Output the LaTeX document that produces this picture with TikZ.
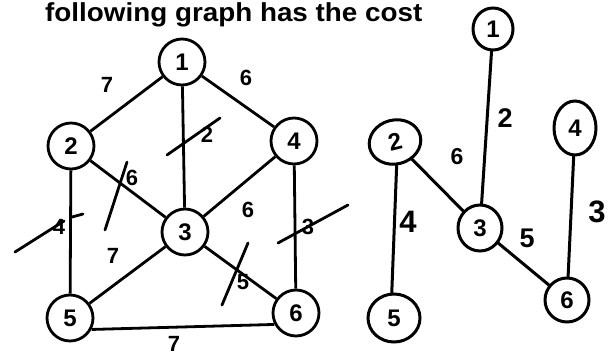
\documentclass[tikz,border=0pt]{standalone}
\usepackage{fontspec}
\setmainfont{Liberation Sans}
\usetikzlibrary{shapes.geometric}
\begin{document}
\begin{tikzpicture}[x=1pt,y=-1pt,
  vtx/.style={circle,draw,line width=2.8pt,minimum size=46pt,inner sep=0pt,
    font=\fontsize{24}{24}\selectfont\bfseries},
  edge/.style={line width=2.8pt},
  wt/.style={font=\fontsize{22}{22}\selectfont\bfseries,inner sep=0pt},
  strike/.style={line width=2.8pt,line cap=round},
  hv/.style={ellipse,draw,line width=3pt,inner sep=0pt,
    font=\fontsize{24}{24}\selectfont\bfseries},
  hedge/.style={line width=3pt,line cap=round},
  hwt/.style={font=\fontsize{27}{27}\selectfont\bfseries,inner sep=0pt}
]
\useasboundingbox (0,0) rectangle (612,361);
\fill[white] (0,0) rectangle (612,361);

% heading line
\node[anchor=base west,inner sep=0pt,font=\fontsize{26}{26}\selectfont\bfseries]
  (title) at (45,21.5) {\scalebox{1.07}[1]{following graph has the cost}};

% ---- weighted graph ----
\node[vtx] (L1) at (182,62)  {1};
\node[vtx] (L2) at (71,146)  {2};
\node[vtx] (L3) at (185,232) {3};
\node[vtx] (L4) at (294,141) {4};
\node[vtx] (L5) at (70,318)  {5};
\node[vtx] (L6) at (296,313) {6};

\draw[edge] (L1) -- (L2);
\draw[edge] (L1) -- (L4);
\draw[edge] (L1) -- (L3);
\draw[edge] (L2) -- (L3);
\draw[edge] (L2) -- (L5);
\draw[edge] (L3) -- (L4);
\draw[edge] (L3) -- (L5);
\draw[edge] (L3) -- (L6);
\draw[edge] (L4) -- (L6);
\draw[edge] (L5.-28) -- (L6.-152);

\node[wt] (w12) at (107,85)  {7};
\node[wt] (w14) at (246,78)  {6};
\node[wt] (w13) at (207,135) {2};
\node[wt] (w23) at (132,178) {6};
\node[wt] (w25) at (59,227)  {4};
\node[wt] (w34) at (248,210) {6};
\node[wt] (w46) at (308,227) {3};
\node[wt] (w35) at (113,256) {7};
\node[wt] (w36) at (243,282) {5};
\node[wt] (w56) at (174,344) {7};

% pen strokes crossing out the rejected edges
\draw[strike] (167,155) -- (220,118);
\draw[strike] (105,230) -- (127,162);
\draw[strike] (15,252) -- (64,221);
\draw[strike] (72,217) -- (83,214);
\draw[strike] (278,243) -- (348,205);
\draw[strike] (222,305) -- (248,243);

% ---- hand-drawn spanning tree ----
\node[hv,minimum width=40pt,minimum height=42pt] (R1) at (493,29)  {1};
\node[hv,minimum width=52pt,minimum height=44pt,rotate=14] (R2) at (395,142) {2};
\node[hv,minimum width=42pt,minimum height=54pt] (R4) at (575,128) {4};
\node[hv,minimum width=44pt,minimum height=46pt] (R3) at (480,228) {3};
\node[hv,minimum width=52pt,minimum height=48pt] (R5) at (394,318) {5};
\node[hv,minimum width=44pt,minimum height=44pt] (R6) at (567,300) {6};

\draw[hedge] (R1) -- (R3);
\draw[hedge] (R2) -- (R3);
\draw[hedge] (R2.-100) -- (R5.95);
\draw[hedge] (R4) -- (R6);
\draw[hedge] (R3) -- (R6);

\node[hwt] (t13) at (505,118) {2};
\node[hwt,font=\fontsize{23}{23}\selectfont\bfseries] (t23) at (457,157) {6};
\node[hwt,font=\fontsize{31}{31}\selectfont\bfseries] (t25) at (408,222) {4};
\node[hwt,font=\fontsize{31}{31}\selectfont\bfseries] (t46) at (597,212) {3};
\node[hwt] (t36) at (527,238) {5};
\end{tikzpicture}
\end{document}
